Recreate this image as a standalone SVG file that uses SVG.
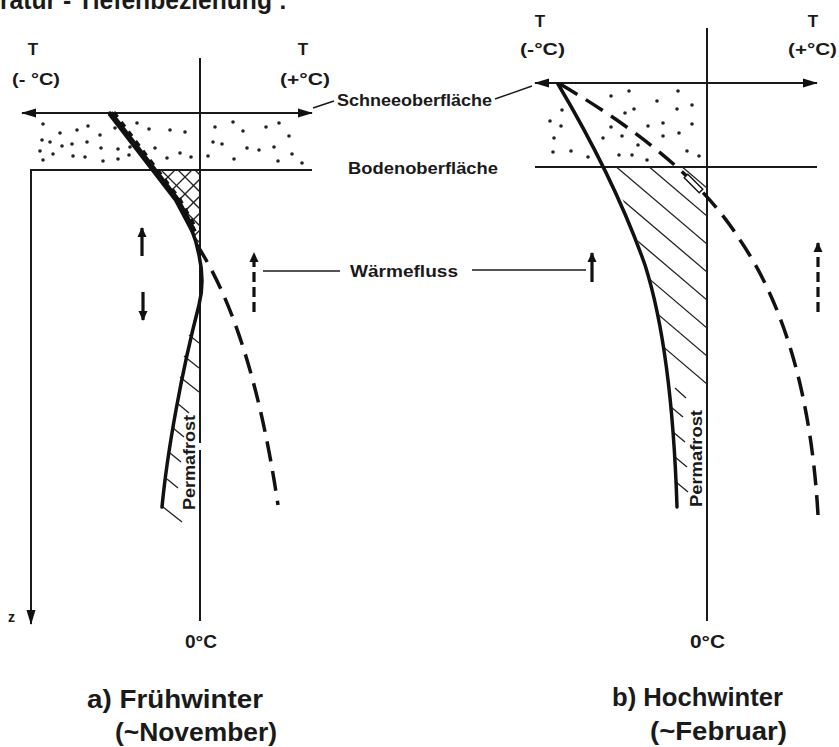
<svg xmlns="http://www.w3.org/2000/svg" width="839" height="747" viewBox="0 0 839 747">
<defs>
<style>
.t{font-family:"Liberation Sans Narrow","Liberation Sans",Arial,sans-serif;font-weight:bold;fill:#1a1a1a}
.ax{stroke:#1a1a1a;stroke-width:2;fill:none}
.thin{stroke:#1a1a1a;stroke-width:1.4;fill:none}
.curve{stroke:#111;stroke-width:3.5;fill:none;stroke-linecap:round;stroke-linejoin:round}
.dash{stroke:#111;stroke-width:3.5;fill:none;stroke-dasharray:20 10}
.hatch{stroke:#222;stroke-width:1.3;fill:none}
.dot{fill:#222}
</style>
<marker id="ah" markerUnits="userSpaceOnUse" markerWidth="16" markerHeight="10" refX="14" refY="5" orient="auto-start-reverse"><path d="M0,0.5 L15,5 L0,9.5 z" fill="#111"/></marker>
<marker id="fa" markerUnits="userSpaceOnUse" markerWidth="11" markerHeight="10" refX="9" refY="5" orient="auto"><path d="M0,0.5 L10,5 L0,9.5 z" fill="#111"/></marker>
<clipPath id="cA"><polygon points="150,170 165,185 177,200 186,215 192,230 196,245 199,258 200,258 200,170"/></clipPath>
<clipPath id="cB"><polygon points="606,167 615,180 623,200 632,222 640,247 647,267 653,287 657,303 660,320 664,345 668,370 670,392 707,392 707,167"/></clipPath>
</defs>
<rect width="839" height="747" fill="#fff"/>

<text class="t" x="0" y="9" font-size="25" textLength="287" lengthAdjust="spacingAndGlyphs">ratur - Tiefenbeziehung :</text>

<g id="panel-a">
  <g id="a-snow">
    <circle class="dot" cx="43" cy="124" r="1.8"/><circle class="dot" cx="60" cy="133" r="1.8"/><circle class="dot" cx="77" cy="130" r="1.8"/><circle class="dot" cx="88" cy="126" r="1.8"/><circle class="dot" cx="100" cy="135" r="1.8"/><circle class="dot" cx="115" cy="128" r="1.8"/><circle class="dot" cx="137" cy="123" r="1.8"/><circle class="dot" cx="149" cy="129" r="1.8"/><circle class="dot" cx="170" cy="130" r="1.8"/><circle class="dot" cx="185" cy="132" r="1.8"/>
    <circle class="dot" cx="42" cy="140" r="1.8"/><circle class="dot" cx="50" cy="142" r="1.8"/><circle class="dot" cx="62" cy="146" r="1.8"/><circle class="dot" cx="72" cy="144" r="1.8"/><circle class="dot" cx="87" cy="142" r="1.8"/><circle class="dot" cx="101" cy="148" r="1.8"/><circle class="dot" cx="118" cy="149" r="1.8"/><circle class="dot" cx="130" cy="147" r="1.8"/><circle class="dot" cx="155" cy="148" r="1.8"/>
    <circle class="dot" cx="40" cy="151" r="1.8"/><circle class="dot" cx="53" cy="154" r="1.8"/><circle class="dot" cx="73" cy="156" r="1.8"/><circle class="dot" cx="85" cy="157" r="1.8"/><circle class="dot" cx="103" cy="161" r="1.8"/><circle class="dot" cx="118" cy="159" r="1.8"/><circle class="dot" cx="129" cy="155" r="1.8"/><circle class="dot" cx="167" cy="158" r="1.8"/><circle class="dot" cx="180" cy="153" r="1.8"/><circle class="dot" cx="191" cy="157" r="1.8"/><circle class="dot" cx="43" cy="160" r="1.8"/>
    <circle class="dot" cx="215" cy="127" r="1.8"/><circle class="dot" cx="233" cy="122" r="1.8"/><circle class="dot" cx="243" cy="131" r="1.8"/><circle class="dot" cx="266" cy="127" r="1.8"/><circle class="dot" cx="279" cy="123" r="1.8"/><circle class="dot" cx="289" cy="136" r="1.8"/><circle class="dot" cx="213" cy="142" r="1.8"/><circle class="dot" cx="222" cy="144" r="1.8"/><circle class="dot" cx="247" cy="148" r="1.8"/><circle class="dot" cx="259" cy="150" r="1.8"/><circle class="dot" cx="274" cy="147" r="1.8"/><circle class="dot" cx="208" cy="156" r="1.8"/><circle class="dot" cx="234" cy="159" r="1.8"/><circle class="dot" cx="292" cy="154" r="1.8"/><circle class="dot" cx="278" cy="161" r="1.8"/><circle class="dot" cx="302" cy="163" r="1.8"/>
  </g>
  <g id="a-axes">
    <line class="ax" x1="22" y1="113" x2="312" y2="113" marker-start="url(#ah)" marker-end="url(#ah)"/>
    <polyline class="ax" points="312,170 31,170 31,624" marker-end="url(#ah)"/>
    <line class="ax" x1="200" y1="58" x2="200" y2="443"/>
    <line class="ax" x1="200" y1="450" x2="200" y2="621"/>
  </g>
  <g id="a-hatch">
    <g clip-path="url(#cA)" class="hatch">
      <line x1="100" y1="75" x2="220" y2="195"/><line x1="100" y1="92" x2="220" y2="212"/><line x1="100" y1="109" x2="220" y2="229"/><line x1="100" y1="126" x2="220" y2="246"/><line x1="100" y1="143" x2="220" y2="263"/><line x1="100" y1="160" x2="220" y2="280"/>
      <line x1="100" y1="245" x2="220" y2="125"/><line x1="100" y1="262" x2="220" y2="142"/><line x1="100" y1="279" x2="220" y2="159"/><line x1="100" y1="296" x2="220" y2="176"/><line x1="100" y1="313" x2="220" y2="193"/><line x1="100" y1="330" x2="220" y2="210"/><line x1="100" y1="347" x2="220" y2="227"/>
    </g>
    <g class="hatch">
      <line x1="189" y1="335" x2="199" y2="343"/><line x1="184" y1="356" x2="199" y2="368"/><line x1="180" y1="377" x2="199" y2="392"/>
      <line x1="177" y1="403" x2="189" y2="413"/><line x1="173" y1="428" x2="184" y2="437"/><line x1="170" y1="453" x2="181" y2="462"/><line x1="167" y1="479" x2="178" y2="488"/><line x1="163" y1="507" x2="182" y2="522"/>
    </g>
  </g>
  <g id="a-curves">
    <path class="curve" d="M110,113 Q150,165 177,200 Q194,228 199,255 Q205,282 199,305 Q186,355 176,410 Q166,465 162,507"/>
    <path d="M110,113 Q150,165 177,200 L194,232" stroke="#111" stroke-width="6" fill="none"/>
    <path d="M114,112 Q153,164 180,199 L196,228" stroke="#111" stroke-width="3" fill="none" stroke-dasharray="6 6"/>
    <path class="dash" d="M197,245 Q252,330 278,505"/>
  </g>
  <g id="a-flux">
    <line x1="142" y1="256" x2="142" y2="228" stroke="#111" stroke-width="3.2" marker-end="url(#fa)"/>
    <line x1="143" y1="292" x2="143" y2="320" stroke="#111" stroke-width="3.2" marker-end="url(#fa)"/>
    <line x1="254" y1="312" x2="254" y2="253" stroke="#111" stroke-width="3.2" stroke-dasharray="10 5" marker-end="url(#fa)"/>
  </g>
  <text class="t" x="33" y="55" font-size="17" text-anchor="middle">T</text>
  <text class="t" x="12" y="85" font-size="17" textLength="48" lengthAdjust="spacingAndGlyphs">(- °C)</text>
  <text class="t" x="303" y="55" font-size="17" text-anchor="middle">T</text>
  <text class="t" x="280" y="85" font-size="17" textLength="50" lengthAdjust="spacingAndGlyphs">(+°C)</text>
  <text class="t" x="8" y="622" font-size="14">z</text>
  <text class="t" x="185" y="648" font-size="19" textLength="32" lengthAdjust="spacingAndGlyphs">0°C</text>
  <text class="t" transform="translate(195,510) rotate(-90)" font-size="16" textLength="95" lengthAdjust="spacingAndGlyphs">Permafrost</text>
  <text class="t" x="87" y="708" font-size="25" textLength="176" lengthAdjust="spacingAndGlyphs">a) Frühwinter</text>
  <text class="t" x="115" y="741" font-size="25" textLength="162" lengthAdjust="spacingAndGlyphs">(~November)</text>
</g>

<g id="panel-b">
  <g id="b-snow">
    <circle class="dot" cx="611" cy="96" r="1.8"/><circle class="dot" cx="629" cy="91" r="1.8"/><circle class="dot" cx="678" cy="91" r="1.8"/><circle class="dot" cx="657" cy="101" r="1.8"/><circle class="dot" cx="692" cy="105" r="1.8"/><circle class="dot" cx="562" cy="110" r="1.8"/><circle class="dot" cx="625" cy="113" r="1.8"/><circle class="dot" cx="634" cy="109" r="1.8"/><circle class="dot" cx="677" cy="109" r="1.8"/>
    <circle class="dot" cx="550" cy="121" r="1.8"/><circle class="dot" cx="561" cy="126" r="1.8"/><circle class="dot" cx="611" cy="127" r="1.8"/><circle class="dot" cx="648" cy="126" r="1.8"/><circle class="dot" cx="663" cy="123" r="1.8"/><circle class="dot" cx="692" cy="124" r="1.8"/>
    <circle class="dot" cx="554" cy="138" r="1.8"/><circle class="dot" cx="603" cy="138" r="1.8"/><circle class="dot" cx="622" cy="136" r="1.8"/><circle class="dot" cx="663" cy="136" r="1.8"/><circle class="dot" cx="679" cy="133" r="1.8"/><circle class="dot" cx="638" cy="145" r="1.8"/>
    <circle class="dot" cx="553" cy="152" r="1.8"/><circle class="dot" cx="571" cy="151" r="1.8"/><circle class="dot" cx="588" cy="157" r="1.8"/><circle class="dot" cx="619" cy="155" r="1.8"/><circle class="dot" cx="632" cy="155" r="1.8"/><circle class="dot" cx="647" cy="160" r="1.8"/><circle class="dot" cx="687" cy="151" r="1.8"/><circle class="dot" cx="699" cy="156" r="1.8"/>
  </g>
  <g id="b-axes">
    <line class="ax" x1="535" y1="83" x2="817" y2="83" marker-start="url(#ah)" marker-end="url(#ah)"/>
    <line class="ax" x1="535" y1="167" x2="817" y2="167"/>
    <line class="ax" x1="707" y1="28" x2="707" y2="621"/>
  </g>
  <g id="b-hatch">
    <g clip-path="url(#cB)" class="hatch">
      <line x1="547" y1="52" x2="707" y2="188"/><line x1="547" y1="80" x2="707" y2="216"/><line x1="547" y1="108" x2="707" y2="244"/><line x1="547" y1="136" x2="707" y2="272"/><line x1="547" y1="164" x2="707" y2="300"/><line x1="547" y1="192" x2="707" y2="328"/><line x1="547" y1="220" x2="707" y2="356"/><line x1="547" y1="248" x2="707" y2="384"/>
    </g>
    <g class="hatch">
      <line x1="675" y1="388" x2="686" y2="398"/>
      <line x1="671" y1="407" x2="683" y2="417"/><line x1="673" y1="432" x2="685" y2="442"/><line x1="675" y1="457" x2="687" y2="467"/><line x1="676" y1="482" x2="688" y2="492"/>
    </g>
  </g>
  <g id="b-curves">
    <path class="curve" d="M558,84 Q615,180 645,265 Q672,350 677,507"/>
    <path class="dash" d="M560,84 Q690,160 740,240 Q808,340 818,515"/>
    <polygon points="687.8,174.2 702.8,189.2 699.2,192.8 684.2,177.8" fill="#fff" stroke="#111" stroke-width="1.4"/>
  </g>
  <g id="b-flux">
    <line x1="592" y1="282" x2="592" y2="253" stroke="#111" stroke-width="3.2" marker-end="url(#fa)"/>
    <line x1="818" y1="312" x2="818" y2="243" stroke="#111" stroke-width="3.2" stroke-dasharray="10 5" marker-end="url(#fa)"/>
  </g>
  <text class="t" x="540" y="27" font-size="17" text-anchor="middle">T</text>
  <text class="t" x="520" y="55" font-size="17" textLength="45" lengthAdjust="spacingAndGlyphs">(-°C)</text>
  <text class="t" x="813" y="27" font-size="17" text-anchor="middle">T</text>
  <text class="t" x="788" y="55" font-size="17" textLength="49" lengthAdjust="spacingAndGlyphs">(+°C)</text>
  <text class="t" x="690" y="648" font-size="19" textLength="35" lengthAdjust="spacingAndGlyphs">0°C</text>
  <text class="t" transform="translate(702,507) rotate(-90)" font-size="16" textLength="97" lengthAdjust="spacingAndGlyphs">Permafrost</text>
  <text class="t" x="612" y="706" font-size="25" textLength="171" lengthAdjust="spacingAndGlyphs">b) Hochwinter</text>
  <text class="t" x="650" y="740" font-size="25" textLength="137" lengthAdjust="spacingAndGlyphs">(~Februar)</text>
</g>

<g id="labels">
  <text class="t" x="337" y="106" font-size="17" textLength="155" lengthAdjust="spacingAndGlyphs">Schneeoberfläche</text>
  <text class="t" x="348" y="174" font-size="17" textLength="150" lengthAdjust="spacingAndGlyphs">Bodenoberfläche</text>
  <text class="t" x="350" y="277" font-size="17" textLength="108" lengthAdjust="spacingAndGlyphs">Wärmefluss</text>
</g>

<g id="connectors">
  <line class="thin" x1="313" y1="108" x2="334" y2="101"/>
  <line class="thin" x1="495" y1="99" x2="532" y2="86"/>
  <line class="thin" x1="263" y1="271" x2="340" y2="271"/>
  <line class="thin" x1="472" y1="270" x2="586" y2="270"/>
</g>
</svg>
